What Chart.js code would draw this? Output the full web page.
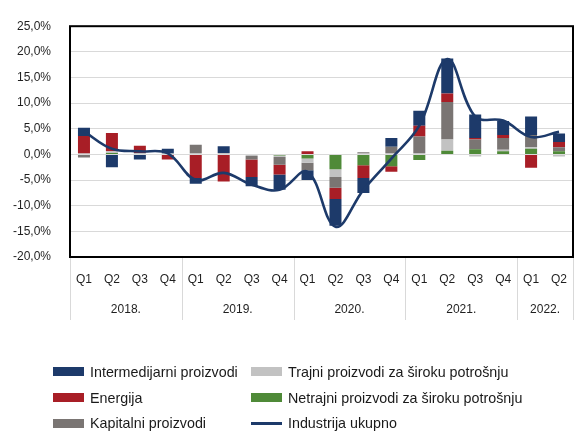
<!DOCTYPE html>
<html>
<head>
<meta charset="utf-8">
<script src="https://cdn.jsdelivr.net/npm/chart.js@4.4.1/dist/chart.umd.min.js"></script>
<style>
html,body{margin:0;padding:0;background:#fff;}
#wrap{position:relative;width:587px;height:433px;overflow:hidden;background:#fff;}
#c{position:absolute;left:0;top:0;}
#legend{position:absolute;left:0;top:0;width:587px;height:433px;pointer-events:none;
  font-family:"Liberation Sans",Arial,sans-serif;font-size:14.3px;color:#1a1a1a;}
.item{position:absolute;display:flex;align-items:center;white-space:nowrap;height:20px;}
.sw{width:31px;height:9px;margin-right:6px;flex:none;}
.sw.line{height:3px;}
</style>
</head>
<body>
<div id="wrap">
  <canvas id="c" width="587" height="433"></canvas>
  <div id="legend"></div>
</div>
<script>
// ---- data ----
const quarterLabels = ['Q1','Q2','Q3','Q4','Q1','Q2','Q3','Q4','Q1','Q2','Q3','Q4','Q1','Q2','Q3','Q4','Q1','Q2'];
const years = ['2018.','2019.','2020.','2021.','2022.'];
const quartersPerYear = [4,4,4,4,2];
const yTicks = [-20,-15,-10,-5,0,5,10,15,20,25];

const netrajni      = [0, 0.3, 0, 0,    0, 0, 0, -0.2,   -0.8, -2.9, -2.1, -2.3,   -1.1, 0.7, 1.0, 0.6,   1.1, 0.6];
const trajni        = [0.2, 0.3, 0.3, 0.2,   0.3, 0.3, -0.3, -0.3,   -0.8, -1.5, 0.2, 0.3,   0.3, 2.2, -0.4, 0.3,   0.3, -0.4];
const kapitalni     = [-0.6, 0, 0, 0,   1.6, 0, -0.7, -1.5,   -1.5, -2.1, 0.2, 1.2,   3.2, 7.3, 1.9, 2.3,   2.4, 0.8];
const energija      = [3.4, 3.6, 1.4, -1.0,   -4.6, -5.3, -3.4, -1.9,   0.6, -2.2, -2.5, -1.1,   2.1, 1.7, 0.3, 0.6,   -2.6, 1.0];
const intermedijarni= [1.6, -2.5, -1.0, 0.9,   -1.1, 1.3, -1.8, -3.0,   -1.9, -5.2, -2.9, 1.7,   2.9, 6.8, 4.6, 2.7,   3.6, 1.7];
const industrija    = [4.5, 1.1, 0.6, 0.2,   -5.0, -3.6, -5.9, -6.9,   -3.4, -14.1, -6.9, -0.8,   5.6, 18.6, 7.4, 6.6,   3.4, 4.4];

const seriesNames = {
  inter: 'Intermedijarni proizvodi',
  energ: 'Energija',
  kap: 'Kapitalni proizvodi',
  traj: 'Trajni proizvodi za široku potrošnju',
  netr: 'Netrajni proizvodi za široku potrošnju',
  ind: 'Industrija ukupno'
};
const colors = {
  inter: '#1d3a6a',
  energ: '#a81e26',
  kap: '#7a7573',
  traj: '#c2c2c2',
  netr: '#4f8a38',
  ind: '#1d3a6a'
};

// ---- plugins ----
const framePlugin = {
  id: 'frameAndGroups',
  afterDraw(chart) {
    const ctx = chart.ctx, a = chart.chartArea, xs = chart.scales.x;
    const half = (xs.getPixelForValue(1) - xs.getPixelForValue(0)) / 2;
    ctx.save();
    ctx.strokeStyle = '#d9d9d9';
    ctx.lineWidth = 1;
    let idx = 0;
    const bounds = [];
    for (let g = 0; g < years.length; g++) {
      const left = xs.getPixelForValue(idx) - half;
      const right = xs.getPixelForValue(idx + quartersPerYear[g] - 1) + half;
      bounds.push([left, right]);
      idx += quartersPerYear[g];
    }
    const xsSet = [bounds[0][0]].concat(bounds.map(b => b[1]));
    xsSet.forEach(x => {
      const px = Math.round(x) + 0.5;
      ctx.beginPath();
      ctx.moveTo(px, a.bottom);
      ctx.lineTo(px, a.bottom + 63);
      ctx.stroke();
    });
    ctx.fillStyle = '#1f1f1f';
    ctx.font = '12px "Liberation Sans", Arial, sans-serif';
    ctx.textAlign = 'center';
    ctx.textBaseline = 'middle';
    bounds.forEach((b, i) => ctx.fillText(years[i], (b[0] + b[1]) / 2, a.bottom + 53));
    ctx.strokeStyle = '#000';
    ctx.lineWidth = 2;
    ctx.strokeRect(a.left, a.top, a.right - a.left, a.bottom - a.top);
    ctx.restore();
  }
};

// ---- chart ----
Chart.defaults.font.family = '"Liberation Sans", Arial, sans-serif';
Chart.defaults.font.size = 12;
Chart.defaults.color = '#1f1f1f';

const barCommon = { type: 'bar', stack: 'bars', barPercentage: 0.43, categoryPercentage: 1, order: 2, borderWidth: 0 };

new Chart(document.getElementById('c'), {
  data: {
    labels: quarterLabels,
    datasets: [
      Object.assign({ label: seriesNames.netr, data: netrajni, backgroundColor: colors.netr }, barCommon),
      Object.assign({ label: seriesNames.traj, data: trajni, backgroundColor: colors.traj }, barCommon),
      Object.assign({ label: seriesNames.kap, data: kapitalni, backgroundColor: colors.kap }, barCommon),
      Object.assign({ label: seriesNames.energ, data: energija, backgroundColor: colors.energ }, barCommon),
      Object.assign({ label: seriesNames.inter, data: intermedijarni, backgroundColor: colors.inter }, barCommon),
      { type: 'line', label: seriesNames.ind, data: industrija, stack: 'line', order: 1,
        borderColor: colors.ind, borderWidth: 2.6, pointRadius: 0, tension: 0.38, fill: false }
    ]
  },
  options: {
    responsive: false,
    animation: false,
    layout: { padding: { left: 0, top: 21, right: 14, bottom: 116 } },
    plugins: { legend: { display: false }, tooltip: { enabled: false } },
    scales: {
      x: {
        stacked: true,
        grid: { display: false, drawTicks: false },
        border: { display: false },
        ticks: { padding: 15, maxRotation: 0, autoSkip: false, font: { size: 12 } },
        afterFit(s) { s.height = 60; }
      },
      y: {
        stacked: true,
        min: yTicks[0], max: yTicks[yTicks.length - 1],
        afterBuildTicks(s) { s.ticks = yTicks.map(v => ({ value: v })); },
        grid: { color: '#d9d9d9', lineWidth: 1, drawTicks: false },
        border: { display: false },
        ticks: { padding: 19, font: { size: 12 },
          callback: v => v.toFixed(1).replace('.', ',') + '%' },
        afterFit(s) { s.width = 70; }
      }
    }
  },
  plugins: [framePlugin]
});

// ---- HTML legend ----
const legendLayout = [
  ['inter', 53, 371.5, false], ['traj', 251, 371.5, false],
  ['energ', 53, 397.5, false], ['netr', 251, 397.5, false],
  ['kap', 53, 423, false], ['ind', 251, 423, true]
];
const lg = document.getElementById('legend');
legendLayout.forEach(([k, x, cy, isLine]) => {
  const d = document.createElement('div');
  d.className = 'item';
  d.style.left = x + 'px';
  d.style.top = (cy - 10) + 'px';
  const sw = document.createElement('span');
  sw.className = 'sw' + (isLine ? ' line' : '');
  sw.style.background = colors[k];
  const t = document.createElement('span');
  t.textContent = seriesNames[k];
  d.appendChild(sw); d.appendChild(t);
  lg.appendChild(d);
});
</script>
</body>
</html>
